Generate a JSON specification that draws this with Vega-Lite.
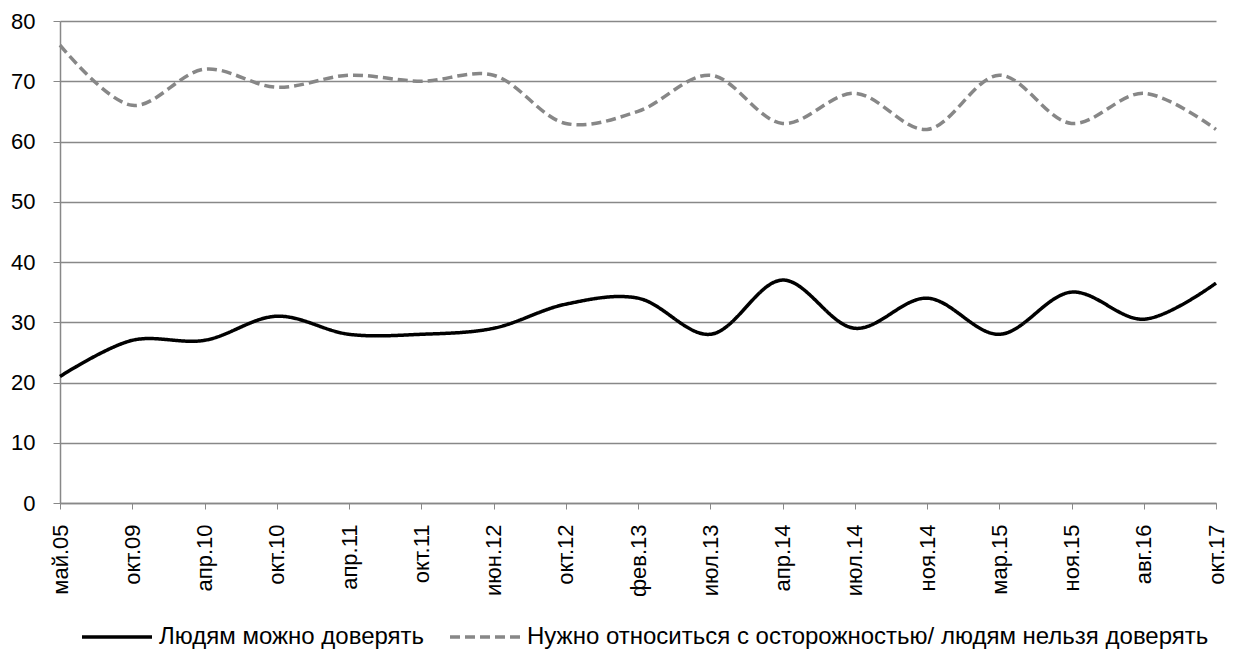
{
  "$schema": "https://vega.github.io/schema/vega-lite/v6.json",
  "autosize": {"type": "none"},
  "width": 1156,
  "height": 482,
  "padding": {"left": 60, "top": 21, "right": 22, "bottom": 153},
  "background": "white",
  "config": {
    "font": "Liberation Sans",
    "view": {"stroke": null}
  },
  "data": {
    "values": [
      {"date": "май.05", "series": "Людям можно доверять", "value": 21},
      {"date": "окт.09", "series": "Людям можно доверять", "value": 27},
      {"date": "апр.10", "series": "Людям можно доверять", "value": 27},
      {"date": "окт.10", "series": "Людям можно доверять", "value": 31},
      {"date": "апр.11", "series": "Людям можно доверять", "value": 28},
      {"date": "окт.11", "series": "Людям можно доверять", "value": 28},
      {"date": "июн.12", "series": "Людям можно доверять", "value": 29},
      {"date": "окт.12", "series": "Людям можно доверять", "value": 33},
      {"date": "фев.13", "series": "Людям можно доверять", "value": 34},
      {"date": "июл.13", "series": "Людям можно доверять", "value": 28},
      {"date": "апр.14", "series": "Людям можно доверять", "value": 37},
      {"date": "июл.14", "series": "Людям можно доверять", "value": 29},
      {"date": "ноя.14", "series": "Людям можно доверять", "value": 34},
      {"date": "мар.15", "series": "Людям можно доверять", "value": 28},
      {"date": "ноя.15", "series": "Людям можно доверять", "value": 35},
      {"date": "авг.16", "series": "Людям можно доверять", "value": 30.5},
      {"date": "окт.17", "series": "Людям можно доверять", "value": 36.5},
      {"date": "май.05", "series": "Нужно относиться с осторожностью/ людям нельзя доверять", "value": 76},
      {"date": "окт.09", "series": "Нужно относиться с осторожностью/ людям нельзя доверять", "value": 66},
      {"date": "апр.10", "series": "Нужно относиться с осторожностью/ людям нельзя доверять", "value": 72},
      {"date": "окт.10", "series": "Нужно относиться с осторожностью/ людям нельзя доверять", "value": 69},
      {"date": "апр.11", "series": "Нужно относиться с осторожностью/ людям нельзя доверять", "value": 71},
      {"date": "окт.11", "series": "Нужно относиться с осторожностью/ людям нельзя доверять", "value": 70},
      {"date": "июн.12", "series": "Нужно относиться с осторожностью/ людям нельзя доверять", "value": 71},
      {"date": "окт.12", "series": "Нужно относиться с осторожностью/ людям нельзя доверять", "value": 63},
      {"date": "фев.13", "series": "Нужно относиться с осторожностью/ людям нельзя доверять", "value": 65},
      {"date": "июл.13", "series": "Нужно относиться с осторожностью/ людям нельзя доверять", "value": 71},
      {"date": "апр.14", "series": "Нужно относиться с осторожностью/ людям нельзя доверять", "value": 63},
      {"date": "июл.14", "series": "Нужно относиться с осторожностью/ людям нельзя доверять", "value": 68},
      {"date": "ноя.14", "series": "Нужно относиться с осторожностью/ людям нельзя доверять", "value": 62},
      {"date": "мар.15", "series": "Нужно относиться с осторожностью/ людям нельзя доверять", "value": 71},
      {"date": "ноя.15", "series": "Нужно относиться с осторожностью/ людям нельзя доверять", "value": 63},
      {"date": "авг.16", "series": "Нужно относиться с осторожностью/ людям нельзя доверять", "value": 68},
      {"date": "окт.17", "series": "Нужно относиться с осторожностью/ людям нельзя доверять", "value": 62}
    ]
  },
  "mark": {"type": "line", "interpolate": "catmull-rom", "strokeWidth": 3.5},
  "encoding": {
    "x": {
      "field": "date",
      "type": "nominal",
      "sort": null,
      "scale": {"type": "point", "padding": 0},
      "axis": {
        "title": null,
        "labelAngle": -90,
        "labelFontSize": 22,
        "labelColor": "black",
        "labelPadding": 15,
        "tickSize": 6,
        "tickColor": "#888888",
        "domainColor": "#888888",
        "domainWidth": 1.5,
        "grid": false
      }
    },
    "y": {
      "field": "value",
      "type": "quantitative",
      "scale": {"domain": [0, 80], "nice": false},
      "axis": {
        "title": null,
        "values": [0, 10, 20, 30, 40, 50, 60, 70, 80],
        "labelFontSize": 22,
        "labelColor": "black",
        "labelPadding": 18,
        "tickSize": 7,
        "tickColor": "#888888",
        "gridColor": "#888888",
        "gridWidth": 1.5,
        "domainColor": "#888888",
        "domainWidth": 1.5
      }
    },
    "color": {
      "field": "series",
      "type": "nominal",
      "scale": {
        "domain": ["Людям можно доверять", "Нужно относиться с осторожностью/ людям нельзя доверять"],
        "range": ["#000000", "#878787"]
      },
      "legend": {
        "title": null,
        "orient": "none",
        "direction": "horizontal",
        "legendX": 20,
        "legendY": 579,
        "labelFontSize": 24,
        "labelLimit": 0,
        "labelColor": "black",
        "symbolType": "stroke",
        "symbolSize": 4900,
        "symbolStrokeWidth": 3.5,
        "labelOffset": 5,
        "columnPadding": 18
      }
    },
    "strokeDash": {
      "field": "series",
      "type": "nominal",
      "scale": {
        "domain": ["Людям можно доверять", "Нужно относиться с осторожностью/ людям нельзя доверять"],
        "range": [[1, 0], [10, 5]]
      },
      "legend": null
    }
  }
}
